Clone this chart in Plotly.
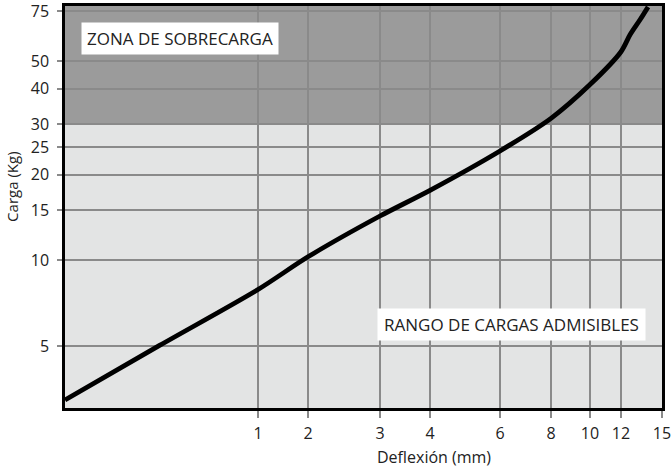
import numpy as np
import plotly.graph_objects as go

# curve: deflection (mm) vs load (kg)
deflection_mm = [0, 0.49, 1.0, 2.0, 3.0, 4.0, 6.0, 8.0, 10.0, 12.0, 12.66, 13.39, 13.98]
load_kg = [3.23, 5.02, 7.89, 10.28, 14.3, 17.6, 24.2, 31.5, 41.4, 54.0, 61.9, 69.9, 77.6]

x_tick_labels = [1, 2, 3, 4, 6, 8, 10, 12, 15]
y_tick_labels = [5, 10, 15, 20, 25, 30, 40, 50, 75]
overload_from = 30

# the deflection axis of the original is not linear: piecewise scale
scale_mm = [0, 1, 2, 3, 4, 6, 8, 10, 12, 15]
scale_pos = [0, 193, 243, 315, 365, 435, 486, 525, 556, 597]


def xscale(v):
    return np.interp(v, scale_mm, scale_pos)


dark = '#9b9b9b'
light = '#e3e4e4'
grid = '#8a8a8a'
txt = '#222222'
font = 'Open Sans'

fig = go.Figure()

fig.add_trace(go.Scatter(x=xscale(deflection_mm), y=load_kg, mode='lines',
                         line=dict(color='black', width=4.8, shape='spline', smoothing=0.8),
                         showlegend=False, hoverinfo='skip'))

# overload zone
fig.add_shape(type='rect', xref='x', yref='y', x0=0, x1=597, y0=overload_from, y1=200,
              fillcolor=dark, line_width=0, layer='below')

fig.update_layout(width=671, height=473,
                  margin=dict(l=65, r=9, t=6, b=65, autoexpand=False),
                  paper_bgcolor='white', plot_bgcolor=light,
                  font=dict(family=font, color=txt))

fig.update_xaxes(range=[0, 597], tickvals=xscale(x_tick_labels),
                 ticktext=[str(v) for v in x_tick_labels], automargin=False,
                 showgrid=True, gridcolor=grid, gridwidth=1.5,
                 ticks='outside', ticklen=7, tickcolor=grid, tickwidth=1.5,
                 tickfont=dict(size=16, color=txt), ticklabelstandoff=2,
                 ticklabeloverflow='allow',
                 showline=True, linecolor='black', linewidth=2.5, mirror=True,
                 zeroline=False)
fig.update_yaxes(type='log', range=[0.481, 1.893], tickvals=y_tick_labels,
                 ticktext=[str(v) for v in y_tick_labels], automargin=False,
                 showgrid=True, gridcolor=grid, gridwidth=1.5,
                 ticks='outside', ticklen=5, tickcolor=grid, tickwidth=1.5,
                 tickfont=dict(size=16, color=txt), ticklabelstandoff=5,
                 ticklabeloverflow='allow',
                 showline=True, linecolor='black', linewidth=2.5, mirror=True,
                 zeroline=False)

fig.add_annotation(text='ZONA DE SOBRECARGA', xref='paper', yref='paper',
                   x=0.1926, y=0.918, xanchor='center', yanchor='middle', showarrow=False,
                   font=dict(size=17, color=txt), bgcolor='white', borderpad=4, width=188)
fig.add_annotation(text='RANGO DE CARGAS ADMISIBLES', xref='paper', yref='paper',
                   x=0.748, y=0.2065, xanchor='center', yanchor='middle', showarrow=False,
                   font=dict(size=17, color=txt), bgcolor='white', borderpad=4, width=259)

fig.add_annotation(text='Carga (Kg)', xref='paper', yref='paper',
                   x=-0.0888, y=0.55, xanchor='center', yanchor='middle',
                   textangle=-90, showarrow=False,
                   font=dict(size=15, color=txt))
fig.add_annotation(text='Deflexión (mm)', xref='paper', yref='paper',
                   x=0.618, y=-0.122, xanchor='center', yanchor='middle', showarrow=False,
                   font=dict(size=16, color=txt))

# page body has a default 8px margin, drop it so the chart sits at 0,0
fig.write_html("out.html", config={'displayModeBar': False},
               post_script="document.body.style.margin='0';")
